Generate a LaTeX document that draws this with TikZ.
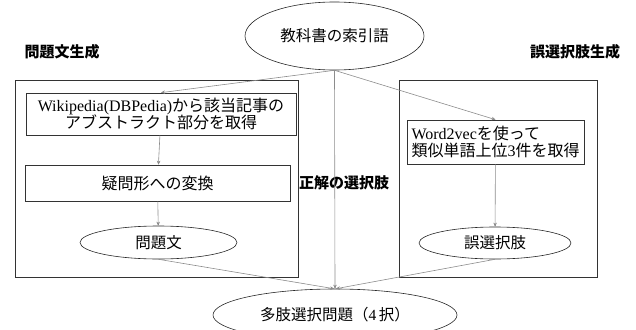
\documentclass[tikz,border=0pt]{standalone}
\usepackage{fontspec}
\setmainfont{Liberation Serif}
\newfontfamily\cjk{Noto Sans CJK JP}
\usetikzlibrary{shapes.geometric,arrows.meta}
\tikzset{
  ell/.style={ellipse,draw=black!85,line width=0.6pt,inner sep=0pt,font=\fontsize{15.5}{18}\selectfont},
  stepbox/.style={draw=black!80,line width=0.7pt,inner sep=0pt,font=\fontsize{16}{18}\selectfont},
  group/.style={draw=black!80,line width=0.9pt},
  lbl/.style={font=\fontsize{15}{18}\selectfont\cjk\bfseries,inner sep=0pt},
  conn/.style={draw=black!45,line width=0.6pt,-{Stealth[length=4pt,width=3.5pt,fill=black]}}
}
\begin{document}
\begin{tikzpicture}[x=1pt,y=-1pt]
\useasboundingbox (0,0) rectangle (636,329);
\begin{scope}
\clip (0,0) rectangle (636,329);
% groups
\draw[group] (15,80) rectangle (298,277);
\draw[group] (399,80) rectangle (597,277);
% nodes
\node[ell,minimum width=179pt,minimum height=68pt] (top) at (334.5,36) {\cjk 教科書の索引語};
\node[lbl] (lleft) at (62,52) {問題文生成};
\node[lbl] (lright) at (575,52) {誤選択肢生成};
\node[stepbox,minimum width=270pt,minimum height=42pt,align=center] (b1) at (161,114)
  {Wikipedia(DBPedia){\cjk から該当記事の}\\[-1pt]{\cjk アブストラクト部分を取得}};
\node[stepbox,minimum width=265pt,minimum height=36pt] (b2) at (157.5,183) {\cjk 疑問形への変換};
\node[ell,minimum width=157pt,minimum height=33pt] (q) at (158.5,242.5) {\cjk 問題文};
\node[stepbox,minimum width=177pt,minimum height=44pt,align=left] (w) at (495.5,142)
  {Word2vec{\cjk を使って}\\[-1pt]{\cjk 類似単語上位}3{\cjk 件を取得}};
\node[ell,minimum width=152pt,minimum height=32pt] (d) at (495,243) {\cjk 誤選択肢};
\node[ell,minimum width=244pt,minimum height=52pt] (bot) at (335,315) {{\cjk 多肢選択問題（}4\,{\cjk 択）}};
\node[lbl] (ans) at (344,183) {正解の選択肢};
% connectors
\draw[conn] (top.south) -- (b1.north);
\draw[conn] (top.south) -- (w.north);
\draw[conn] (top.south) -- (bot.north);
\draw[conn] (b1) -- (b2);
\draw[conn] (b2) -- (q);
\draw[conn] (w) -- (d);
\draw[conn] (q.south) -- ([xshift=-1pt]bot.north);
\draw[conn] (d.south) -- ([xshift=1pt]bot.north);
\end{scope}
\end{tikzpicture}
\end{document}
